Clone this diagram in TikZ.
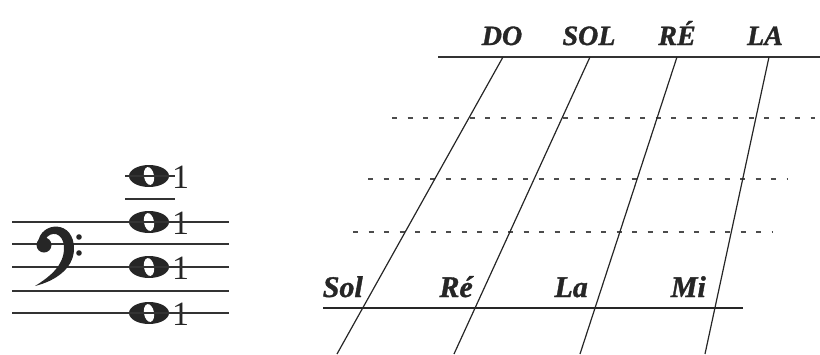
\documentclass[tikz,border=0pt]{standalone}
\usepackage{fontspec}
\setmainfont{Liberation Serif}[BoldItalicFeatures={FakeBold=1.2}]
\usepackage{tikz}
\usetikzlibrary{positioning,calc}

\begin{document}
\begin{tikzpicture}[
    x=1pt, y=-1pt,
    tuning/.style={font=\fontsize{28}{28}\selectfont\bfseries\itshape, inner sep=0pt, anchor=base, text=black!85},
    oldname/.style={font=\fontsize{30}{30}\selectfont\bfseries\itshape, inner sep=0pt, anchor=base east, text=black!85},
    finger/.style={font=\fontsize{34}{34}\selectfont, inner sep=0pt, anchor=base west, text=black!85},
    staffline/.style={line width=1.2pt, color=black!80},
    stringline/.style={line width=1.2pt, color=black!85},
    dotrow/.style={line width=2.2pt, dash pattern=on 5pt off 10.5pt, color=black!70}
]
\useasboundingbox (0,0) rectangle (820,354);

% Open strings, whole notes
\foreach \y [count=\i] in {176,222,267,313} {
    \fill[black!85] (149,\y) ellipse [x radius=20, y radius=11];
    \fill[white, rotate around={10:(149,\y)}] (149,\y) ellipse [x radius=5, y radius=9];
    \node[finger] (f\i) at (172,\y+12) {1};
}

% Staff with bass clef
\foreach \y in {222,244,267,291,313}
    \draw[staffline] (12,\y) -- (229,\y);
\draw[staffline] (125,199) -- (175,199);
\draw[staffline] (125,176) -- (175,176);
\fill[black!85] (44,245) circle (7.5);
\fill[black!85] (38,243) .. controls (40,221) and (75,219) .. (74,250)
    .. controls (73,269) and (55,281) .. (35,286)
    .. controls (51,276) and (64,265) .. (64,248)
    .. controls (64,232) and (50,230) .. (45,240) -- cycle;
\fill[black!85] (79,237) circle (2.8);
\fill[black!85] (79,253) circle (2.8);

% Upper tuning
\coordinate (top west) at (438,57);
\coordinate (top east) at (820,57);
\draw[line width=2.5pt, black!80] (top west) -- (top east);
\node[tuning] (do) at (502,45) {DO};
\node[tuning] (sol) at (589,45) {SOL};
\node[tuning] (re) at (677,45) {RÉ};
\node[tuning] (la) at (765,45) {LA};

% Position rows
\draw[dotrow] (392,118) -- (815,118);
\draw[dotrow] (368,179) -- (788,179);
\draw[dotrow] (353,232) -- (773,232);

% Lower tuning
\coordinate (low west) at (323,308);
\coordinate (low east) at (743,308);
\draw[stringline] (low west) -- (low east);
\node[oldname] (sol old) at (363,297) {Sol};
\node[oldname] (re old) at (473,297) {Ré};
\node[oldname] (la old) at (588,297) {La};
\node[oldname] (mi old) at (706,297) {Mi};

% Strings
\coordinate (t1) at (503,57);  \coordinate (b1) at (337,354);
\coordinate (t2) at (590,57);  \coordinate (b2) at (454,354);
\coordinate (t3) at (677,57);  \coordinate (b3) at (580,354);
\coordinate (t4) at (769,57);  \coordinate (b4) at (705,354);
\foreach \i in {1,...,4}
    \draw[stringline] (t\i) -- (b\i);

\end{tikzpicture}
\end{document}
